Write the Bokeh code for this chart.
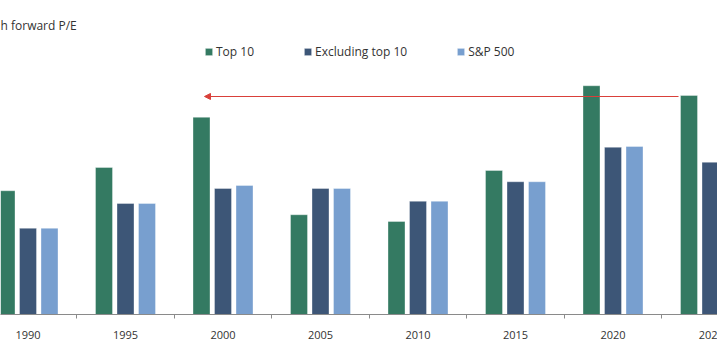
from bokeh.plotting import figure
from bokeh.models import (ColumnDataSource, FixedTicker, Legend, LegendItem, Arrow,
                          NormalHead, Label, Range1d)
from bokeh.embed import file_html
from bokeh.resources import INLINE

# ---- data (forward P/E) ----
years = ["1990", "1995", "2000", "2005", "2010", "2015", "2020", "2025"]
tick_labels = ["1990", "1995", "2000", "2005", "2010", "2015", "2020", "202"]  # last one is cropped in the reference
top10 = [16.5, 19.6, 26.3, 13.3, 12.4, 19.2, 30.5, 29.2]
excl_top10 = [11.5, 14.8, 16.8, 16.8, 15.1, 17.7, 22.3, 20.3]
sp500 = [11.5, 14.8, 17.2, 16.8, 15.1, 17.7, 22.4, 21.2]
series_names = ["Top 10", "Excluding top 10", "S&P 500"]
colors = ["#347a62", "#3d5677", "#789fcf"]

# ---- layout constants ----
W, H = 717, 355
FRAME_H = 314          # baseline y pixel from top
PITCH = 97.5           # px per year group
X0 = 27.5              # px of first group's centre
PPU = 7.5              # px per P/E unit
FONT = "Open Sans"
TXT = "#333333"

idx = list(range(len(years)))
off = 21.5 / PITCH
bw = 17 / PITCH

src = ColumnDataSource(dict(
    x_top=[i - off for i in idx],
    x_ex=[i for i in idx],
    x_sp=[i + off for i in idx],
    top10=top10, excl=excl_top10, sp=sp500,
))

p = figure(width=W, height=H,
           x_range=Range1d(-X0 / PITCH, (W - X0) / PITCH),
           y_range=Range1d(0, FRAME_H / PPU),
           output_backend="svg", toolbar_location=None,
           min_border=0, min_border_bottom=H - FRAME_H)
p.background_fill_color = "white"
p.border_fill_color = "white"
p.outline_line_color = None
p.xgrid.visible = False
p.ygrid.visible = False
p.yaxis.visible = False

r1 = p.vbar(x="x_top", top="top10", width=bw, source=src, fill_color=colors[0],
            line_color="white", line_alpha=0.35)
r2 = p.vbar(x="x_ex", top="excl", width=bw, source=src, fill_color=colors[1],
            line_color="white", line_alpha=0.35)
r3 = p.vbar(x="x_sp", top="sp", width=bw, source=src, fill_color=colors[2],
            line_color="white", line_alpha=0.35)

ax = p.xaxis[0]
ax.ticker = FixedTicker(ticks=idx, minor_ticks=[i + 0.5 for i in range(-1, len(years))])
ax.major_label_overrides = {i: t for i, t in zip(idx, tick_labels)}
ax.major_tick_line_color = None
ax.major_tick_out = 0
ax.major_tick_in = 0
ax.minor_tick_line_color = "#8a8a8a"
ax.minor_tick_out = 4
ax.minor_tick_in = 0
ax.axis_line_color = "#8a8a8a"
ax.axis_line_width = 1.2
ax.major_label_standoff = 12
ax.major_label_text_font = FONT
ax.major_label_text_font_size = "11px"
ax.major_label_text_color = TXT

# arrow at the current top-10 level
red = "#d9403a"
y_arrow = top10[-1] - 0.13
p.add_layout(Arrow(start=NormalHead(size=6, fill_color=red, line_color=red),
                   end=None,
                   x_start=(204 - X0) / PITCH, x_end=(678 - X0) / PITCH,
                   y_start=y_arrow, y_end=y_arrow,
                   line_color=red, line_width=1.2))

# title (cropped in the reference)
p.add_layout(Label(x=-X0 / PITCH, y=(FRAME_H - 25) / PPU, text="h forward P/E",
                   text_font=FONT, text_font_size="12px", text_color=TXT,
                   text_baseline="middle", text_align="left"))

legend = Legend(items=[LegendItem(label=series_names[0], renderers=[r1]),
                       LegendItem(label=series_names[1], renderers=[r2]),
                       LegendItem(label=series_names[2], renderers=[r3])],
                orientation="horizontal", location=(204, 254),
                glyph_width=9, glyph_height=9, label_height=14,
                label_standoff=3, spacing=49, padding=0, margin=0,
                border_line_color=None, background_fill_alpha=0,
                label_text_font=FONT, label_text_font_size="12px",
                label_text_color=TXT)
p.add_layout(legend, "center")

open("out.html", "w").write(file_html(p, INLINE))
